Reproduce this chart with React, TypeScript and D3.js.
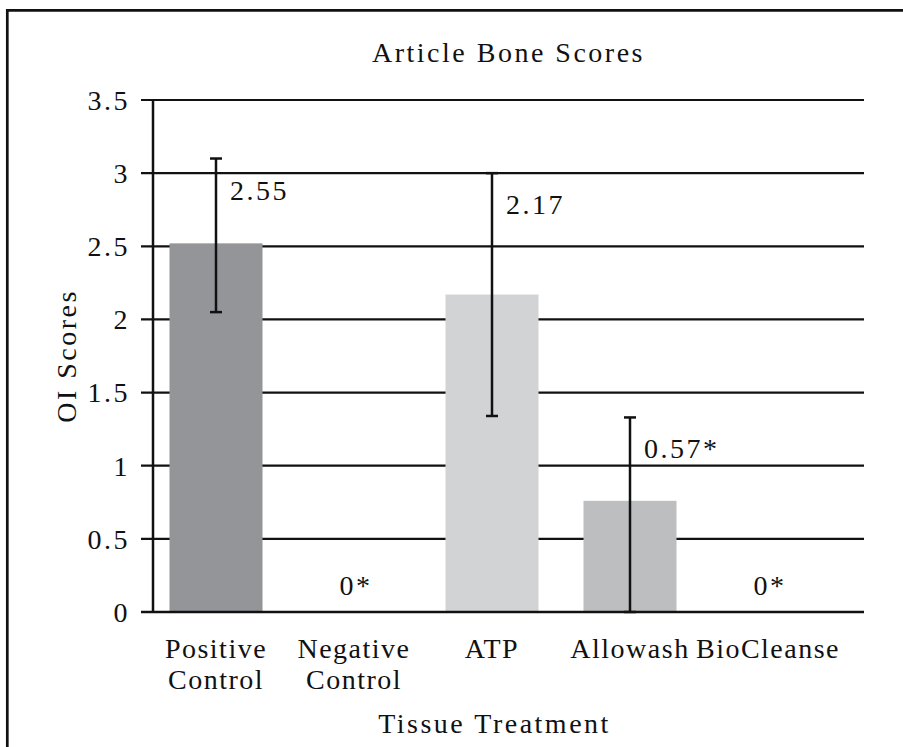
import React, { useEffect } from "react";
import * as d3 from "d3";

const categories = ["Positive Control", "Negative Control", "ATP", "Allowash", "BioCleanse"];
const categoryLines = [["Positive", "Control"], ["Negative", "Control"], ["ATP"], ["Allowash"], ["BioCleanse"]];
const barValues = [2.52, 0, 2.17, 0.76, 0];
const errLow: (number | null)[] = [2.05, null, 1.34, 0, null];
const errHigh: (number | null)[] = [3.1, null, 3.0, 1.33, null];
const valueLabels = ["2.55", "0*", "2.17", "0.57*", "0*"];
const yTicks = [0, 0.5, 1, 1.5, 2, 2.5, 3, 3.5];
const yTickLabels = ["0", "0.5", "1", "1.5", "2", "2.5", "3", "3.5"];
const title = "Article Bone Scores";
const xTitle = "Tissue Treatment";
const yTitle = "OI Scores";

const barColors = ["#939598", "#939598", "#d1d3d4", "#bcbec0", "#bcbec0"];
const W = 903;
const H = 747;
const FONT = "'Liberation Serif', 'Times New Roman', serif";
const ink = "#111";

export default function App() {
  useEffect(() => {
    document.body.style.margin = "0";
  }, []);

  const axisLeft = 153;
  const gridLeft = 141;
  const gridRight = 864;
  const y = d3.scaleLinear().domain([0, 3.5]).range([612, 100]);
  const x = d3
    .scaleBand<string>()
    .domain(categories)
    .range([147, 837])
    .paddingInner(0.326)
    .paddingOuter(0.163);
  const bw = x.bandwidth();
  const textStyle: React.CSSProperties = { letterSpacing: "2.5px" };
  const catStyle: React.CSSProperties = { letterSpacing: "1.5px" };

  return (
    <svg
      width={W}
      height={H}
      style={{ position: "fixed", left: 0, top: 0, display: "block", background: "#fff" }}
      fontFamily={FONT}
      fontSize={28}
      fill={ink}
    >
      <rect x={0} y={0} width={W} height={H} fill="#fff" />
      {/* outer frame (extends beyond the right and bottom edges) */}
      <path d={`M${W + 10},10.3 H7.3 V${H + 10}`} fill="none" stroke={ink} strokeWidth={2.7} />

      {/* title */}
      <text x={(axisLeft + gridRight) / 2} y={62} textAnchor="middle" style={textStyle}>
        {title}
      </text>

      {/* gridlines */}
      {yTicks.map((t) => (
        <line key={"g" + t} x1={gridLeft} x2={gridRight} y1={y(t)} y2={y(t)} stroke={ink} strokeWidth={2.2} />
      ))}

      {/* bars */}
      {categories.map((c, i) =>
        barValues[i] > 0 ? (
          <rect
            key={"b" + c}
            x={x(c)!}
            y={y(barValues[i])}
            width={bw}
            height={y(0) - y(barValues[i])}
            fill={barColors[i]}
          />
        ) : null
      )}

      {/* axes */}
      <line x1={axisLeft} x2={axisLeft} y1={y(3.5)} y2={y(0)} stroke={ink} strokeWidth={2.5} />
      <line x1={gridLeft} x2={gridRight} y1={y(0)} y2={y(0)} stroke={ink} strokeWidth={2.6} />

      {/* error bars */}
      {categories.map((c, i) => {
        const lo = errLow[i];
        const hi = errHigh[i];
        if (lo === null || hi === null) return null;
        const cx = x(c)! + bw / 2;
        return (
          <g key={"e" + c} stroke={ink} strokeWidth={2.5}>
            <line x1={cx} x2={cx} y1={y(lo)} y2={y(hi)} />
            <line x1={cx - 6} x2={cx + 6} y1={y(lo)} y2={y(lo)} />
            <line x1={cx - 6} x2={cx + 6} y1={y(hi)} y2={y(hi)} />
          </g>
        );
      })}

      {/* value labels */}
      {categories.map((c, i) => {
        const cx = x(c)! + bw / 2;
        const hi = errHigh[i];
        if (hi === null) {
          return (
            <text key={"v" + c} x={cx + 2} y={y(0) - 17} textAnchor="middle" style={textStyle}>
              {valueLabels[i]}
            </text>
          );
        }
        return (
          <text key={"v" + c} x={cx + 14} y={y(hi) + 41} textAnchor="start" style={textStyle}>
            {valueLabels[i]}
          </text>
        );
      })}

      {/* y tick labels */}
      {yTicks.map((t, i) => (
        <text key={"t" + t} x={130} y={y(t)} dy="0.35em" textAnchor="end" style={textStyle}>
          {yTickLabels[i]}
        </text>
      ))}

      {/* x category labels */}
      {categories.map((c, i) => {
        const cx = x(c)! + bw / 2;
        return (
          <text key={"c" + c} x={cx} textAnchor="middle" style={catStyle}>
            {categoryLines[i].map((ln, j) => (
              <tspan key={j} x={cx} y={y(0) + 46 + j * 31}>
                {ln}
              </tspan>
            ))}
          </text>
        );
      })}

      {/* axis titles */}
      <text x={(axisLeft + gridRight) / 2 - 14} y={733} textAnchor="middle" style={textStyle}>
        {xTitle}
      </text>
      <text
        transform={`translate(66, ${y(1.75)}) rotate(-90)`}
        textAnchor="middle"
        dy="0.35em"
        style={textStyle}
      >
        {yTitle}
      </text>
    </svg>
  );
}
